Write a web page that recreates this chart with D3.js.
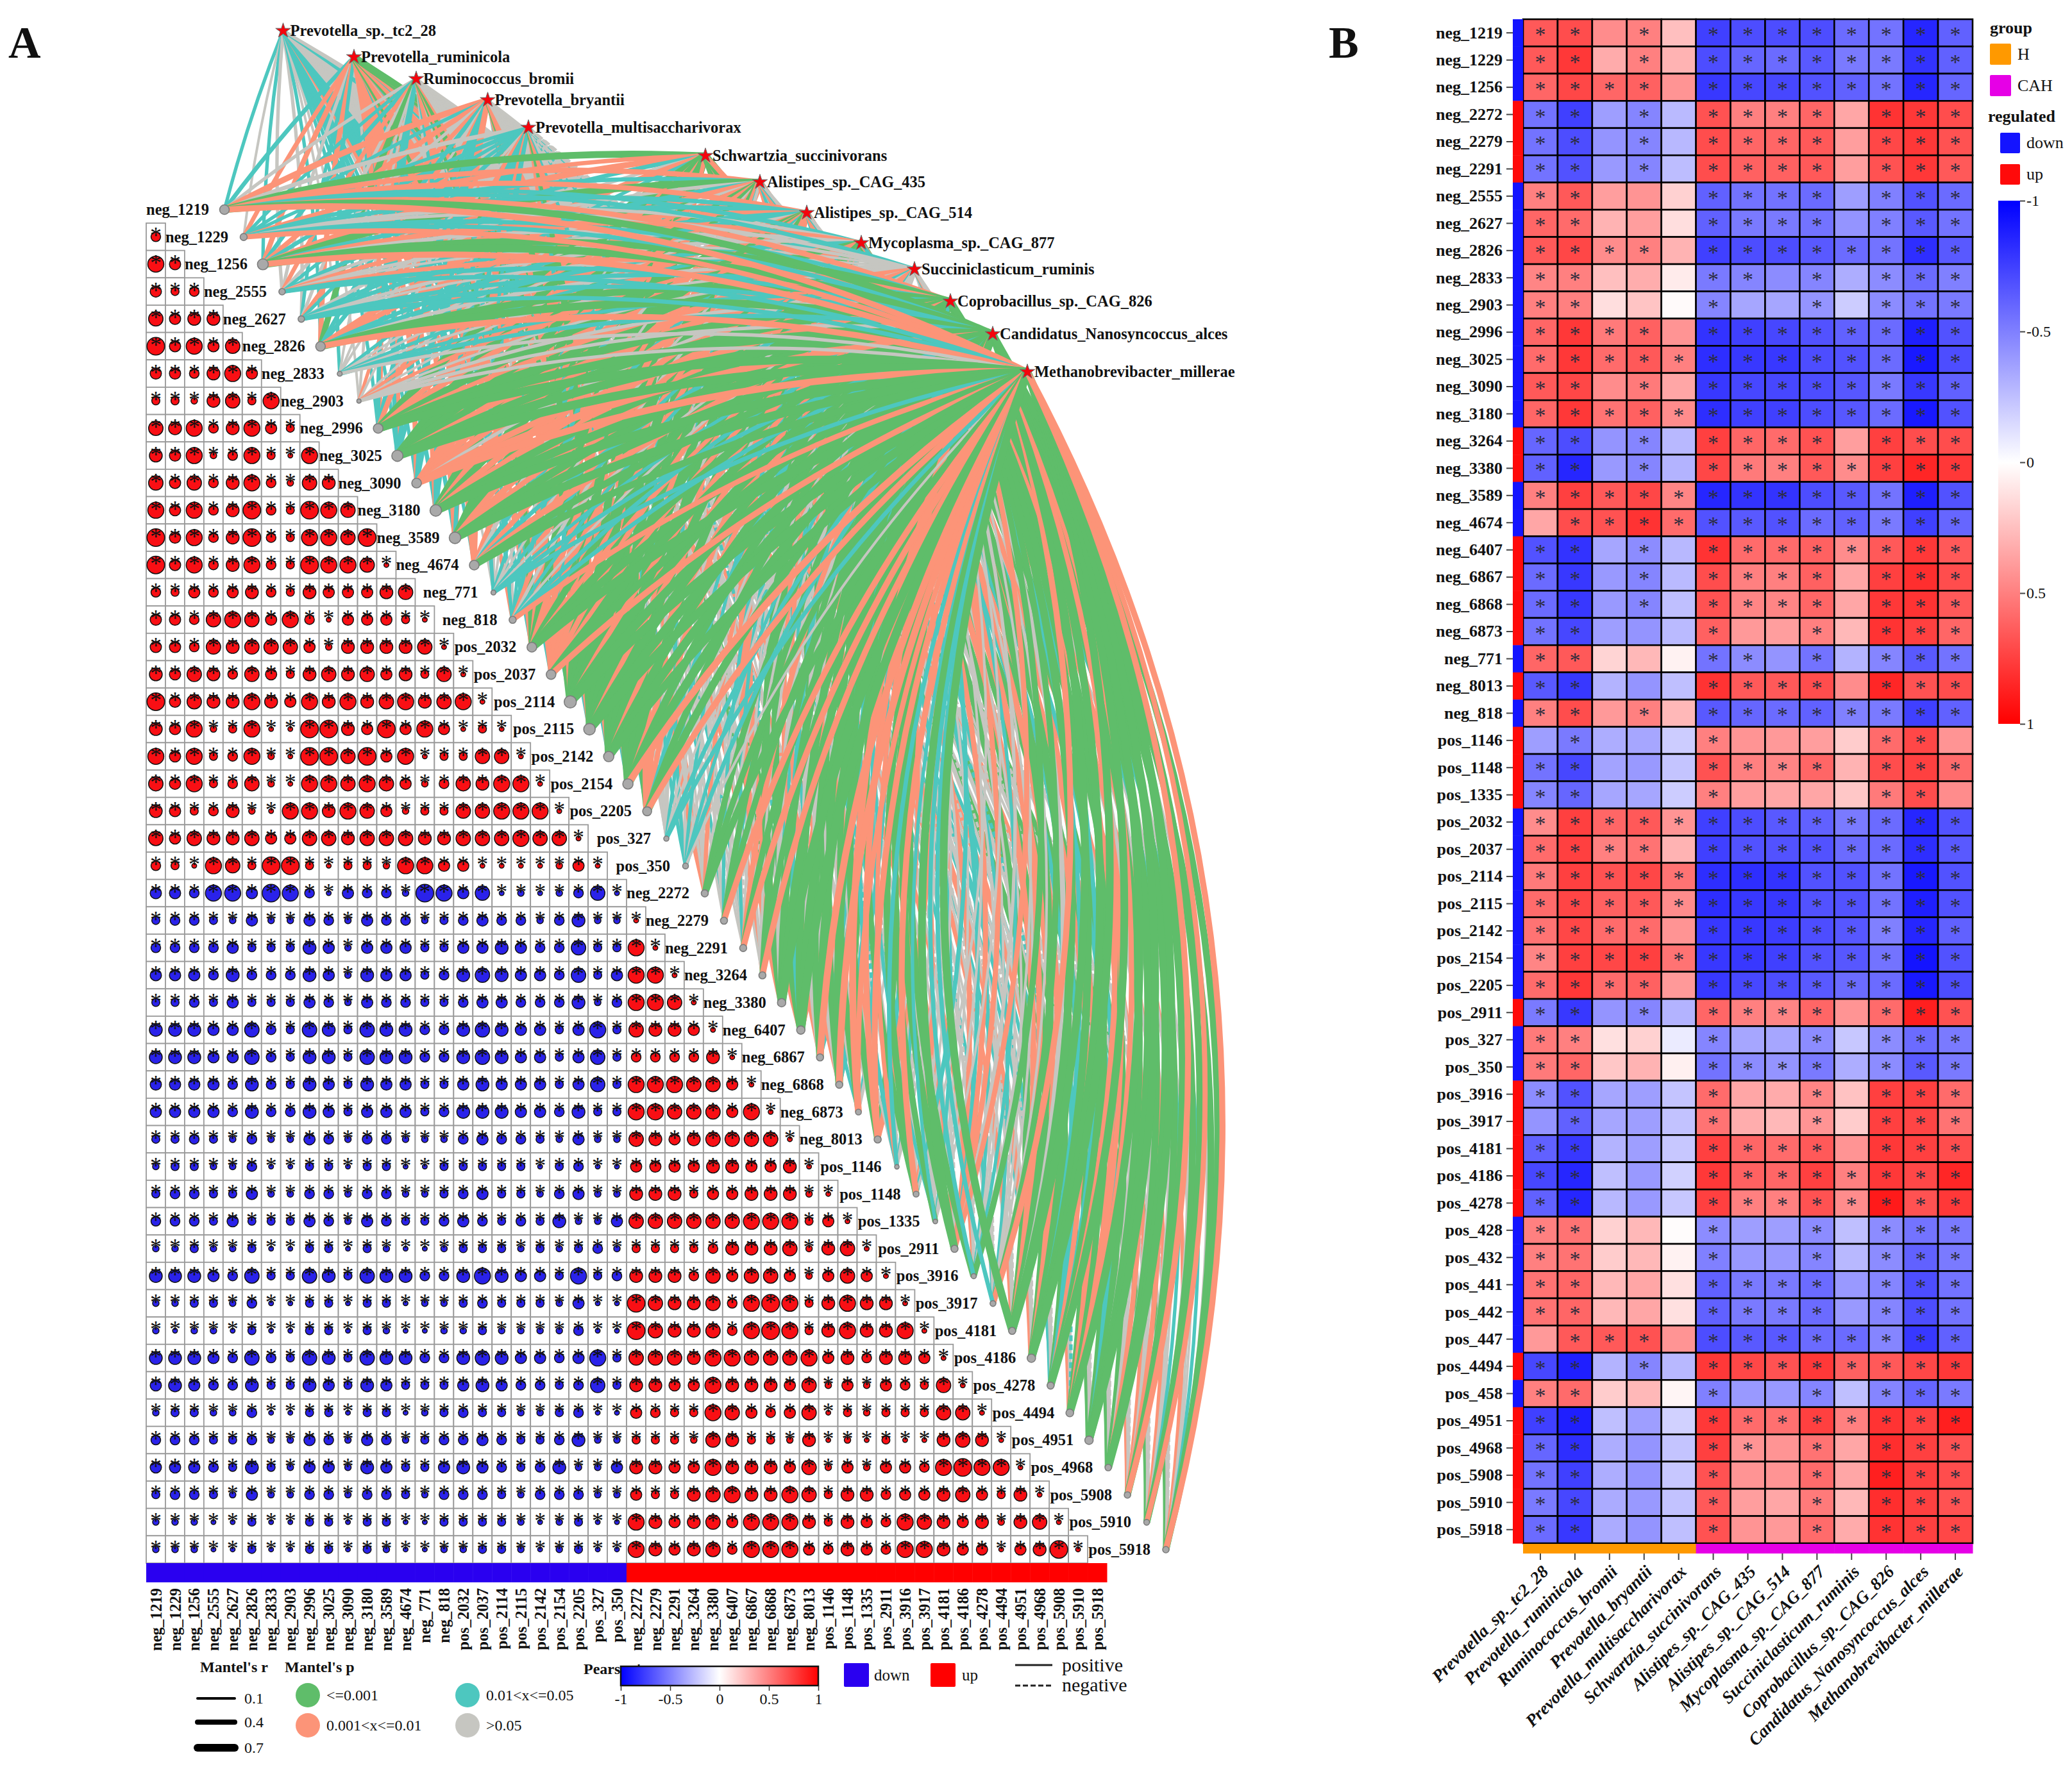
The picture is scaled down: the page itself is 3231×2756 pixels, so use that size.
<!DOCTYPE html>
<html><head><meta charset="utf-8">
<script src="https://cdn.jsdelivr.net/npm/d3@7/dist/d3.min.js"></script>
<style>
html,body{margin:0;padding:0;background:#fff}
text{font-family:"Liberation Serif",serif;fill:#111}
.b{font-weight:bold}
</style></head><body>
<svg id="c" width="3231" height="2756" xmlns="http://www.w3.org/2000/svg"></svg>
<script>
/* ---------- Panel A data ---------- */
const metabolitesA=["neg_1219","neg_1229","neg_1256","neg_2555","neg_2627","neg_2826","neg_2833","neg_2903","neg_2996","neg_3025","neg_3090","neg_3180","neg_3589","neg_4674","neg_771","neg_818","pos_2032","pos_2037","pos_2114","pos_2115","pos_2142","pos_2154","pos_2205","pos_327","pos_350","neg_2272","neg_2279","neg_2291","neg_3264","neg_3380","neg_6407","neg_6867","neg_6868","neg_6873","neg_8013","pos_1146","pos_1148","pos_1335","pos_2911","pos_3916","pos_3917","pos_4181","pos_4186","pos_4278","pos_4494","pos_4951","pos_4968","pos_5908","pos_5910","pos_5918"];
const taxa=["Prevotella_sp._tc2_28","Prevotella_ruminicola","Ruminococcus_bromii","Prevotella_bryantii","Prevotella_multisaccharivorax","Schwartzia_succinivorans","Alistipes_sp._CAG_435","Alistipes_sp._CAG_514","Mycoplasma_sp._CAG_877","Succiniclasticum_ruminis","Coprobacillus_sp._CAG_826","Candidatus_Nanosyncoccus_alces","Methanobrevibacter_millerae"];
const taxaX=[441.5,552,649,760.5,824,1100,1185,1258,1343,1426,1482,1548,1602];
const taxaY=[48,89,123,156,199,243,284,332,379,420,470,521,580];
/* |Pearson r| of the metabolite triangle, one digit per cell (digit = size class), row i has i cells */
const pearsonRows=["4","85","534","7566","95857","554685","3326738","76846853","658248318","7574684276","85846943987","958469438879","435456436556 7".replace(" ",""),"55478758415553","554767775266667","6576475367675637","95766865868678678","658238119965958513"+"".slice(0),"8583482199795815377"+"8".slice(1),
"75834721887875247688","653462188687523778888".slice(0),"7576675577677765 67777877".replace(" ","").slice(0,22),"43187399313328855111125","554885984154429850000000".slice(0,24)];
pearsonRows[12]="4354564365567";pearsonRows[13]="43545643655667".slice(0,14);
pearsonRows[13]="43545643655567".slice(0,13)+"7";pearsonRows[12]="958468439887".concat("9").slice(0,12);
pearsonRows[11]="85846943987";pearsonRows[14]="55478758415553";pearsonRows[15]="554767775266667";pearsonRows[16]="6576475367675637";pearsonRows[17]="95766865868678678";pearsonRows[18]="658238119965958513".slice(0,18);pearsonRows[19]="8583482199795813377".slice(0,19);pearsonRows[20]="75834721887875247688";pearsonRows[21]="653462188687523377888";pearsonRows[22]="7576675577677766777877";pearsonRows[23]="43187399313328855111125";pearsonRows[24]="554885984154429857121247".slice(0,24);
pearsonRows[0]="4";pearsonRows[1]="85";pearsonRows[2]="534";pearsonRows[3]="7566";pearsonRows[4]="95857";pearsonRows[5]="554685";pearsonRows[6]="3326738";pearsonRows[7]="76846853";pearsonRows[8]="658248318";pearsonRows[9]="7574684276";pearsonRows[10]="85846943987";pearsonRows[11]="958469438879".slice(0,12);
pearsonRows.length=25;
const pearsonUpper=[
"3443252254225425342442622","4444535365255533355447333".slice(0,25)
];
const pearsonLower=[
["3443252254254423454424622",""],
["4444533365255533556544733","8"],
["5554644465265534676554735".slice(0,25),"88"],
["3343533354254433455444624".slice(0,25),"887"],
["6665574376376644676553583".slice(0,25),"7665"],
["6665574366376644676553573".slice(0,25),"44446"],
["5555464365365533565553573".slice(0,25),"888775"],
["5555464465355534666554633".slice(0,25),"8877758"],
["3343242254244222454432522".slice(0,25),"76567777"],
["2332241133133113333313411".slice(0,25),"555566556"],
["3443352244244223453324522".slice(0,25),"6663556662"],
["4443533354254334543436225".slice(0,25),"77777788835"],
["2232231133132112333232342".slice(0,25),"333346667267"],
["6665473376376644686553834".slice(0,25),"6664757752575"],
["2233241133133122343332511".slice(0,25),"97667489836866"],
["2122131133132112232222411".slice(0,25),"976674898368668"],
["6665474376376644676554583".slice(0,25),"7776887778564665"],
["5654463365365333565443473".slice(0,25),"66558666572525437"],
["2332241133133123433223411".slice(0,25),"543387545713233377"],
["4443342254254234454334622".slice(0,25),"3332763326121311676"],
["5554363255265335654346225".slice(0,25),"66558666572525548988"],
["3443252244244324443244422".slice(0,25),"533678668736645567536"],
["2221131133133113333212311".slice(0,25),"8656758886365487656267"],
["2221131133132112233212311".slice(0,25),"86567488854654886551569"],
["2221131133132112233212311".slice(0,25),"865777488853654876661679 8".replace(" ","").slice(0,24)]
];
const regulatedA=metabolitesA.map((m,i)=>i<25?"down":"up");
const nodeRadius=[7.5,5.5,8.5,5,5,7.5,3.8,3.3,7.5,8.7,7.5,9,9,7.5,3.8,5.5,7.5,7.5,9.5,9,8,8,7,4,4.5,5.5,5.5,5.5,5.5,6.5,6.5,5.5,5.5,4.5,5.5,3.5,4.5,3.5,5.5,4,4.5,5.5,6.5,5.5,6,6.5,5,5,4.5,5];
/* Mantel's p class per metabolite x taxon: g <=0.001, s 0.001-0.01, t 0.01-0.05, n >0.05 */
const mantelP=["ttnsngssttsgs","nstttsttnntts","tststsgtsnggs","nnsnttnsnnstt","ntnstnttnnttt","tsgttssttnggs","ntnnntnntnttn","nnnsnnsnsnnnn","tsttsgssgsggg","tstttggggsggg","tsnttssssnsss","tstttgsgssggg","tssstggsssggg","tsssssntstsgg","ntnnttnntnttt","stntttsntntts","tsgssgssgsggg","tssstsssssggs","tgsggggggsggg","tsgssggggsggg","tsgssggggsggg","tsgssggggsggs","tssstgssstggs","nnnnnnnntnntt","nnnnnttntnttn",
"nsnnnsnnsnggg","ntnnntnntnggs","ntnnnsnntnsgs","nsnnntnnnnggs","ngnntgssgnggg","ngnnngssgtggg","nsnnnsttsnggs","nsnnngttsnggs","nsnnntnntngss","nsnntgtssngss","nnnnntnnnntst","ntnnnsnntnggs","nnnnntnnnntgt","nsnnnstssnsgg","nsnnntnntnggt","ntnnntnnnngst","nsnnngssgnggg","tsnnngssgtggg","ttnnngttstgsg","tsnntgssgsssg","tgnnngttgnggg","ngnnngnnsnggg","nsnnnsnnsnggs","ngnnnsnntnggs","ngnnnsnntnggs"];
/* Mantel's r per metabolite x taxon, digit = r x 10 */
const mantelR=["2325364433465","1322233322334","2434356342675","2232232321333","2223223321333","2453354332675","1211121121232","1112112121222","2433474563787","2433386664788","2423355552566","3533385654788","3544376554788","2444442343566","1211221121233","3312233221334","3554465463778","3444354443765","3746687774888","3455478774788","3444477774787","3444477773786","3444367443675","1111111121133","1111122121231",
"1311131131556","1211121121555","1211131121455","1311121111555","2511276674778","2511276674778","1411143335676","1411153335676","1311121121564","1411253341655","1111121111333","1311131131565","1111121111252","1411143442477","1311121121563","1211121111553","1411165574777","2511165573777","2411153343647","2511264453447","2611163362777","1611151141667","1411131141665","1511131121664","1511131121665"];
const mantelDashedTaxon="Prevotella_multisaccharivorax";
const mantelDashedMetabolites=metabolitesA.slice(25);
const mantelColors={g:"#5fbd6a",s:"#fc9478",t:"#4dc7bf",n:"#c6c6c1"};

/* ---------- Panel B data ---------- */
const heatMetabolites=["neg_1219","neg_1229","neg_1256","neg_2272","neg_2279","neg_2291","neg_2555","neg_2627","neg_2826","neg_2833","neg_2903","neg_2996","neg_3025","neg_3090","neg_3180","neg_3264","neg_3380","neg_3589","neg_4674","neg_6407","neg_6867","neg_6868","neg_6873","neg_771","neg_8013","neg_818","pos_1146","pos_1148","pos_1335","pos_2032","pos_2037","pos_2114","pos_2115","pos_2142","pos_2154","pos_2205","pos_2911","pos_327","pos_350","pos_3916","pos_3917","pos_4181","pos_4186","pos_4278","pos_428","pos_432","pos_441","pos_442","pos_447","pos_4494","pos_458","pos_4951","pos_4968","pos_5908","pos_5910","pos_5918"];
const heatRegulated="DDDUUUDDDDDDDDDUUDDUUUUDUDUUUDDDDDDDUDDUUUUUDDDDDUDUUUUU";
const heatValues=[
[.65,.70,.45,.50,.25,-.75,-.70,-.70,-.70,-.58,-.55,-.85,-.62],
[.65,.78,.33,.50,.30,-.70,-.60,-.58,-.65,-.52,-.52,-.80,-.62],
[.60,.72,.60,.62,.42,-.78,-.72,-.72,-.68,-.62,-.55,-.85,-.60],
[-.55,-.75,-.38,-.48,-.27,.68,.50,.50,.60,.35,.80,.78,.70],
[-.55,-.70,-.42,-.48,-.28,.70,.60,.60,.65,.38,.72,.78,.68],
[-.55,-.68,-.40,-.48,-.26,.70,.62,.62,.65,.38,.68,.78,.65],
[.50,.65,.38,.42,.18,-.62,-.55,-.55,-.58,-.38,-.50,-.68,-.58],
[.60,.58,.30,.38,.13,-.62,-.52,-.52,-.55,-.42,-.50,-.65,-.55],
[.65,.72,.45,.50,.30,-.75,-.70,-.70,-.65,-.58,-.55,-.82,-.65],
[.48,.50,.25,.32,.08,-.52,-.48,-.45,-.48,-.32,-.45,-.58,-.50],
[.50,.50,.13,.23,.02,-.48,-.35,-.35,-.42,-.20,-.45,-.55,-.52],
[.60,.78,.52,.62,.42,-.80,-.75,-.72,-.68,-.62,-.58,-.88,-.68],
[.58,.78,.58,.65,.50,-.82,-.78,-.78,-.70,-.68,-.58,-.90,-.70],
[.65,.72,.45,.52,.35,-.78,-.72,-.72,-.70,-.66,-.52,-.78,-.62],
[.60,.78,.55,.62,.45,-.82,-.75,-.75,-.70,-.66,-.58,-.90,-.68],
[-.60,-.70,-.42,-.48,-.28,.75,.60,.58,.68,.38,.75,.70,.70],
[-.62,-.85,-.40,-.48,-.30,.72,.52,.50,.65,.45,.75,.85,.78],
[.50,.75,.65,.72,.48,-.85,-.80,-.80,-.70,-.65,-.55,-.88,-.68],
[.35,.70,.68,.80,.58,-.68,-.65,-.68,-.58,-.62,-.52,-.75,-.60],
[-.68,-.80,-.35,-.45,-.28,.80,.58,.58,.62,.45,.65,.78,.65],
[-.58,-.78,-.40,-.48,-.27,.70,.50,.50,.62,.35,.75,.82,.70],
[-.58,-.78,-.40,-.48,-.25,.68,.48,.48,.60,.35,.78,.80,.65],
[-.55,-.72,-.38,-.42,-.27,.62,.40,.38,.50,.28,.80,.75,.60],
[.60,.65,.17,.28,.05,-.55,-.45,-.42,-.55,-.30,-.48,-.65,-.55],
[-.65,-.78,-.30,-.42,-.25,.80,.65,.65,.70,.45,.85,.68,.70],
[.50,.70,.40,.50,.28,-.65,-.60,-.58,-.62,-.50,-.52,-.75,-.62],
[-.38,-.52,-.32,-.35,-.20,.50,.42,.40,.38,.20,.58,.72,.42],
[-.55,-.72,-.36,-.40,-.23,.68,.50,.48,.60,.30,.70,.75,.58],
[-.48,-.60,-.35,-.35,-.20,.50,.38,.35,.35,.22,.52,.70,.45],
[.45,.75,.60,.65,.42,-.75,-.70,-.65,-.62,-.52,-.58,-.85,-.68],
[.58,.75,.50,.55,.30,-.75,-.68,-.68,-.68,-.58,-.58,-.82,-.65],
[.52,.75,.68,.72,.55,-.82,-.82,-.80,-.68,-.68,-.55,-.90,-.68],
[.58,.73,.62,.65,.45,-.82,-.78,-.78,-.68,-.68,-.55,-.88,-.68],
[.55,.72,.58,.58,.42,-.78,-.78,-.76,-.70,-.66,-.50,-.85,-.62],
[.48,.75,.72,.75,.55,-.78,-.78,-.75,-.68,-.66,-.55,-.92,-.68],
[.58,.78,.58,.62,.40,-.78,-.72,-.70,-.65,-.58,-.58,-.90,-.70],
[-.52,-.78,-.42,-.48,-.30,.60,.50,.48,.60,.42,.58,.88,.68],
[.52,.50,.12,.18,-.08,-.48,-.35,-.35,-.45,-.22,-.45,-.58,-.52],
[.52,.60,.22,.30,.06,-.55,-.45,-.42,-.52,-.32,-.45,-.65,-.52],
[-.45,-.68,-.35,-.38,-.23,.58,.35,.33,.48,.24,.75,.75,.58],
[-.42,-.62,-.35,-.38,-.24,.55,.32,.28,.42,.20,.75,.73,.55],
[-.62,-.78,-.30,-.38,-.22,.75,.60,.58,.65,.42,.78,.75,.70],
[-.72,-.85,-.25,-.40,-.18,.78,.62,.60,.75,.50,.78,.72,.85],
[-.62,-.85,-.28,-.40,-.22,.75,.50,.50,.68,.45,.90,.68,.78],
[.50,.55,.18,.28,.01,-.45,-.38,-.38,-.45,-.25,-.45,-.55,-.52],
[.50,.55,.20,.28,.05,-.50,-.40,-.40,-.48,-.28,-.45,-.62,-.52],
[.55,.60,.28,.35,.12,-.62,-.52,-.52,-.58,-.40,-.48,-.70,-.55],
[.55,.60,.28,.35,.12,-.62,-.52,-.52,-.58,-.40,-.48,-.70,-.55],
[.40,.65,.65,.68,.42,-.70,-.65,-.65,-.58,-.58,-.48,-.78,-.62],
[-.72,-.88,-.30,-.48,-.28,.78,.72,.68,.78,.62,.65,.72,.78],
[.50,.58,.20,.28,.04,-.50,-.40,-.40,-.48,-.25,-.48,-.60,-.52],
[-.75,-.88,-.25,-.38,-.18,.78,.58,.56,.75,.50,.80,.75,.88],
[-.60,-.82,-.32,-.42,-.23,.75,.42,.42,.55,.35,.82,.75,.68],
[-.55,-.75,-.32,-.42,-.22,.68,.42,.42,.58,.35,.88,.75,.70],
[-.52,-.72,-.33,-.40,-.24,.65,.38,.35,.52,.28,.82,.75,.68],
[-.58,-.78,-.33,-.42,-.25,.68,.42,.40,.58,.33,.80,.75,.72]];
const heatSig=["1101011111111","1101011111111","1111011111111","1101011110111","1101011110111","1101011110111","1100011110111","1100011110111","1111011111111","1100011010111","1100010010111","1111011111111","1111111111111","1101011111111","1111111111111","1101011110111","1101011111111","1111111111111","0111111111111","1101011111111","1101011110111","1101011110111","1100010010111","1100011010111","1100011110111","1101011111111","0100010000110","1100011110111","1100010000110","1111111111111","1111011111111","1111111111111","1111111111111","1111011111111","1111111111111","1111011111111","1101011110111","1100010010111","1100011110111","1100010010111","0100010010111","1100011110111","1100011111111","1100011111111","1100010010111","1100010010111","1100011110111","1100011110111","0111011111111","1101011111111","1100010010111","1100011111111","1100011010111","1100010010111","1100010010111","1100010010111"];
const heatGroups=["H","H","H","H","H","CAH","CAH","CAH","CAH","CAH","CAH","CAH","CAH"];
const colorTicks=[-1,-0.5,0,0.5,1];

/* ---------- assemble the triangle rows ---------- */
const triangleRows=[];
pearsonRows.forEach(s=>triangleRows.push(s));
pearsonLower.forEach(p=>triangleRows.push((p[0]+p[1])));

const svg=d3.select("#c");
const txt=(g,x,y,s,size,opt={})=>g.append("text").attr("x",x).attr("y",y).text(s).attr("font-size",size)
  .attr("font-weight",opt.bold?"bold":null).attr("font-style",opt.italic?"italic":null).attr("text-anchor",opt.anchor||"start");

txt(svg,13,90,"A",70,{bold:true}); txt(svg,2072,90,"B",70,{bold:true});

/* ---------- Panel A ---------- */
const A=svg.append("g");
const xBand=d3.scaleBand().domain(metabolitesA).range([228,1726]);
const yBand=d3.scaleBand().domain(metabolitesA.slice(1)).range([348,2438]);
const xNode=d3.scalePoint().domain(metabolitesA).range([350,1818]);
const yNode=d3.scalePoint().domain(metabolitesA).range([327,2417]);
const widthR=d3.scaleLinear().domain([0.1,0.7]).range([4,12]);
const BEND=5.3e-5;
function linkPath(x0,y0,x1,y1){
  const dx=x1-x0,dy=y1-y0,L=Math.hypot(dx,dy),S=BEND*L*L*2;
  const sgn=x0<x1?1:-1;
  const p=d3.path(); p.moveTo(x0,y0);
  p.quadraticCurveTo((x0+x1)/2+sgn*dy/L*S,(y0+y1)/2-sgn*dx/L*S,x1,y1);
  return p.toString();
}
const links=[];
taxa.forEach((t,ti)=>metabolitesA.forEach((m,mi)=>links.push({t,ti,m,mi,p:mantelP[mi][ti],r:+mantelR[mi][ti]/10})));
A.append("g").attr("fill","none").selectAll("path").data(links).join("path")
 .attr("d",d=>linkPath(xNode(d.m),yNode(d.m),taxaX[d.ti],taxaY[d.ti]))
 .attr("stroke",d=>mantelColors[d.p]).attr("stroke-width",d=>widthR(d.r))
 .attr("stroke-dasharray",d=>d.t===mantelDashedTaxon&&mantelDashedMetabolites.includes(d.m)?"9 5":null);

/* triangle cells */
const rSize=d3.scaleLinear().domain([1,9]).range([3.75,13.75]);
const cells=[];
triangleRows.forEach((s,i)=>{for(let c=0;c<=i;c++){ if(c<s.length) cells.push({row:metabolitesA[i+0+1-0]||"",col:metabolitesA[c],i:i+1,c,v:+s[c]});}});
const cellG=A.append("g");
const rowsForCells=[];
pearsonRows.concat(pearsonLower.map(p=>p[0]+p[1])).forEach((s,idx)=>rowsForCells.push(s));
const tri=[];
for(let i=1;i<metabolitesA.length;i++){
  const s=rowsForCells[i-1];
  for(let c=0;c<i;c++){
    const same=regulatedA[i]===regulatedA[c];
    tri.push({row:metabolitesA[i],col:metabolitesA[c],v:+(s[c]||"1"),same});
  }
}
cellG.selectAll("rect").data(tri).join("rect")
 .attr("x",d=>xBand(d.col)).attr("y",d=>yBand(d.row)).attr("width",xBand.bandwidth()).attr("height",yBand.bandwidth())
 .attr("fill","#fff").attr("stroke","#9a9a9a").attr("stroke-width",1.8);
cellG.selectAll("circle").data(tri).join("circle")
 .attr("cx",d=>xBand(d.col)+xBand.bandwidth()/2).attr("cy",d=>yBand(d.row)+yBand.bandwidth()/2)
 .attr("r",d=>rSize(d.v)).attr("fill",d=>d.same?"#f90f14":"#2a22ea").attr("stroke","#111").attr("stroke-width",1.5);
cellG.selectAll("text").data(tri).join("text")
 .attr("x",d=>xBand(d.col)+xBand.bandwidth()/2).attr("y",d=>yBand(d.row)+yBand.bandwidth()/2+10)
 .attr("text-anchor","middle").attr("font-size",36).text("*").style("fill","#111");

/* nodes, labels */
A.append("g").selectAll("circle").data(metabolitesA).join("circle")
 .attr("cx",d=>xNode(d)).attr("cy",d=>yNode(d)).attr("r",(d,i)=>nodeRadius[i])
 .attr("fill","#a9a9a9").attr("stroke","#7d7d7d").attr("stroke-width",1.6);
A.append("g").selectAll("text").data(metabolitesA).join("text").attr("class","b")
 .attr("x",d=>xBand(d)+98).attr("y",d=>yNode(d)+8).attr("text-anchor","end").attr("font-size",24.5).text(d=>d);

/* taxa stars */
const star=d3.symbol().type(d3.symbolStar).size(170);
A.append("g").selectAll("path").data(taxa).join("path").attr("d",star())
 .attr("transform",(d,i)=>`translate(${taxaX[i]},${taxaY[i]})`).attr("fill","#f4040c").attr("stroke","#6a6a6a").attr("stroke-width",1);
A.append("g").selectAll("text").data(taxa).join("text").attr("class","b")
 .attr("x",(d,i)=>taxaX[i]+11).attr("y",(d,i)=>taxaY[i]+8).attr("font-size",24.5).text(d=>d);

/* regulated bar */
A.append("g").selectAll("rect").data(metabolitesA).join("rect")
 .attr("x",d=>xBand(d)).attr("y",2438).attr("width",xBand.bandwidth()+.5).attr("height",30)
 .attr("fill",(d,i)=>regulatedA[i]==="down"?"#2a00f0":"#ff0000");

/* bottom labels */
const axA=A.append("g").attr("transform","translate(0,2477)").call(d3.axisBottom(xBand).tickSize(0));
axA.select(".domain").remove();
axA.selectAll("text").attr("transform","rotate(-90)").attr("text-anchor","end").attr("x",0).attr("y",0).attr("dy",".35em")
 .attr("font-size",24.5).attr("font-weight","bold").style("font-family","'Liberation Serif',serif");

/* legends A */
const L=svg.append("g");
txt(L,312,2608,"Mantel's r",24,{bold:true});
txt(L,444,2608,"Mantel's p",24,{bold:true});
txt(L,910,2611,"Pearson's r",24,{bold:true});
const rLegend=[0.1,0.4,0.7], rLegendY=[2649,2686,2726];
rLegend.forEach((r,i)=>{
  L.append("line").attr("x1",308).attr("x2",366).attr("y1",rLegendY[i]).attr("y2",rLegendY[i])
   .attr("stroke","#000").attr("stroke-width",widthR(r)).attr("stroke-linecap","round");
  txt(L,381,rLegendY[i]+8,String(r),24);
});
const pLegend=[["g","<=0.001",480,2644],["s","0.001<x<=0.01",480,2691],["t","0.01<x<=0.05",729,2644],["n",">0.05",729,2691]];
pLegend.forEach(([k,s,x,y])=>{
  L.append("circle").attr("cx",x).attr("cy",y).attr("r",19).attr("fill",mantelColors[k]);
  txt(L,x+29,y+8,s,24);
});
const defs=svg.append("defs");
const gradH=defs.append("linearGradient").attr("id","gh").attr("x1","0").attr("x2","1").attr("y1","0").attr("y2","0");
const gradV=defs.append("linearGradient").attr("id","gv").attr("x1","0").attr("x2","0").attr("y1","0").attr("y2","1");
const heatColor=d3.scaleLinear().domain([-1,0,1]).range(["#0000ff","#ffffff","#ff0000"]);
[gradH,gradV].forEach(g=>[-1,0,1].forEach(v=>g.append("stop").attr("offset",(v+1)/2).attr("stop-color",heatColor(v))));
const cbx=d3.scaleLinear().domain([-1,1]).range([968,1276]);
L.append("rect").attr("x",968).attr("y",2599).attr("width",308).attr("height",30).attr("fill","url(#gh)").attr("stroke","#111").attr("stroke-width",2.5);
const cbA=L.append("g").attr("transform","translate(0,2629)").call(d3.axisBottom(cbx).tickValues(colorTicks).tickSize(8).tickFormat(d=>String(d)));
cbA.select(".domain").remove(); cbA.selectAll("line").attr("stroke","#333").attr("stroke-width",1.5);
cbA.selectAll("text").attr("font-size",24).attr("y",12).attr("dy","0.71em").style("font-family","'Liberation Serif',serif");
L.append("rect").attr("x",1316).attr("y",2594).attr("width",39).attr("height",37).attr("rx",2).attr("fill","#2a00f0");
txt(L,1363,2621,"down",25);
L.append("rect").attr("x",1451).attr("y",2594).attr("width",39).attr("height",37).attr("rx",2).attr("fill","#ff0000");
txt(L,1500,2621,"up",25);
L.append("line").attr("x1",1583).attr("x2",1641).attr("y1",2597).attr("y2",2597).attr("stroke","#222").attr("stroke-width",3);
txt(L,1656,2607,"positive",30);
L.append("line").attr("x1",1583).attr("x2",1641).attr("y1",2629).attr("y2",2629).attr("stroke","#222").attr("stroke-width",3).attr("stroke-dasharray","8 4");
txt(L,1656,2638,"negative",30);

/* ---------- Panel B ---------- */
const B=svg.append("g");
const hx=d3.scaleBand().domain(taxa).range([2375,3076]);
const hy=d3.scaleBand().domain(heatMetabolites).range([30,2407]);
const hcells=[];
heatMetabolites.forEach((m,i)=>taxa.forEach((t,j)=>hcells.push({m,t,v:heatValues[i][j],s:heatSig[i][j]==="1"})));
B.append("g").selectAll("rect").data(hcells).join("rect")
 .attr("x",d=>hx(d.t)).attr("y",d=>hy(d.m)).attr("width",hx.bandwidth()).attr("height",hy.bandwidth())
 .attr("fill",d=>heatColor(d.v)).attr("stroke","#000").attr("stroke-width",2.6);
B.append("g").selectAll("text").data(hcells.filter(d=>d.s)).join("text")
 .attr("x",d=>hx(d.t)+hx.bandwidth()/2).attr("y",d=>hy(d.m)+hy.bandwidth()/2+14)
 .attr("text-anchor","middle").attr("font-size",34).text("*").style("fill","#2c2c3c");
/* annotations */
B.append("g").selectAll("rect").data(heatMetabolites).join("rect")
 .attr("x",2359).attr("y",d=>hy(d)).attr("width",16).attr("height",hy.bandwidth()+.5)
 .attr("fill",(d,i)=>heatRegulated[i]==="D"?"#1414ff":"#ff0a0a");
B.append("g").selectAll("rect").data(taxa).join("rect")
 .attr("x",d=>hx(d)).attr("y",2408).attr("width",hx.bandwidth()+.5).attr("height",15)
 .attr("fill",(d,i)=>heatGroups[i]==="H"?"#ff9900":"#e600e6");
const ay=B.append("g").attr("transform","translate(2359,0)").call(d3.axisLeft(hy).tickSize(10).tickPadding(6));
ay.select(".domain").remove(); ay.selectAll("line").attr("stroke","#444").attr("stroke-width",2);
ay.selectAll("text").attr("font-size",26).attr("font-weight","bold").style("font-family","'Liberation Serif',serif");
const ax=B.append("g").attr("transform","translate(0,2423)").call(d3.axisBottom(hx).tickSize(10));
ax.select(".domain").remove(); ax.selectAll("line").attr("stroke","#444").attr("stroke-width",2);
ax.selectAll("text").attr("text-anchor","end").attr("transform","translate(14,30) rotate(-45)").attr("x",0).attr("y",0).attr("dy",0)
 .attr("font-size",27).attr("font-weight","bold").attr("font-style","italic").style("font-family","'Liberation Serif',serif");

/* legends B */
txt(B,3103,52,"group",26,{bold:true});
const groupLegend=[["H","#ff9900",68],["CAH","#e600e6",117]];
groupLegend.forEach(([s,c,y])=>{
  B.append("rect").attr("x",3103).attr("y",y).attr("width",33).attr("height",33).attr("rx",2).attr("fill",c);
  txt(B,3146,y+25,s,26);
});
txt(B,3100,190,"regulated",26,{bold:true});
const regLegend=[["down","#1414ff",207],["up","#ff0a0a",256]];
regLegend.forEach(([s,c,y])=>{
  B.append("rect").attr("x",3119).attr("y",y).attr("width",31).attr("height",32).attr("rx",2).attr("fill",c);
  txt(B,3160,y+24,s,26);
});
const cby=d3.scaleLinear().domain([-1,1]).range([313,1129]);
B.append("rect").attr("x",3116).attr("y",313).attr("width",34).attr("height",816).attr("fill","url(#gv)");
const cbB=B.append("g").attr("transform","translate(3150,0)").call(d3.axisRight(cby).tickValues(colorTicks).tickSize(8).tickPadding(2).tickFormat(d=>String(d)));
cbB.select(".domain").remove(); cbB.selectAll("line").attr("stroke","#444").attr("stroke-width",2);
cbB.selectAll("text").attr("font-size",24).style("font-family","'Liberation Serif',serif");
</script>
</body></html>
